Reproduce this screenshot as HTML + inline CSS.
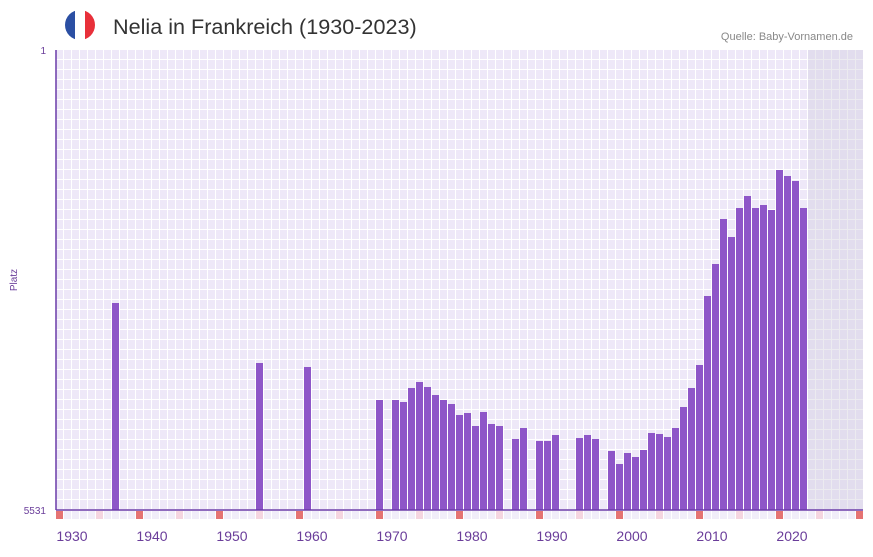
<!DOCTYPE html>
<html><head><meta charset="utf-8"><style>
body{margin:0;background:#fff;width:873px;height:552px;overflow:hidden;font-family:"Liberation Sans",sans-serif}
</style></head><body>
<svg width="873" height="552" xmlns="http://www.w3.org/2000/svg">
<defs>
<pattern id="g" x="56" y="50" width="8" height="10" patternUnits="userSpaceOnUse">
<rect width="8" height="10" fill="#fff"/><rect width="7" height="9" fill="#eee8f8"/></pattern>
<pattern id="g2" x="56" y="50" width="8" height="10" patternUnits="userSpaceOnUse">
<rect width="8" height="10" fill="#ecebf0"/><rect width="7" height="9" fill="#e2ddee"/></pattern>
<clipPath id="c"><circle cx="80" cy="25" r="15"/></clipPath>
</defs>
<g clip-path="url(#c)"><rect x="65" y="10" width="10" height="30" fill="#2b4fa3"/><rect x="75" y="10" width="10" height="30" fill="#fff"/><rect x="85" y="10" width="10" height="30" fill="#e8303a"/></g>
<text x="113" y="34" font-size="21.6" fill="#333">Nelia in Frankreich (1930-2023)</text>
<text x="853" y="40" font-size="11" fill="#888" text-anchor="end">Quelle: Baby-Vornamen.de</text>
<rect x="56" y="50" width="752" height="460" fill="url(#g)"/>
<rect x="808" y="50" width="55" height="460" fill="url(#g2)"/>
<g id="bars" fill="#8e56c8"></g>
<g id="mk"></g>
<line x1="56" y1="50" x2="56" y2="510" stroke="#6a3aa8" stroke-width="1.5"/>
<line x1="56" y1="510" x2="863" y2="510" stroke="#6a3aa8" stroke-width="1.5"/>
<text x="46" y="54" font-size="10" fill="#6a3d9a" text-anchor="end">1</text>
<text x="46" y="514" font-size="10" fill="#6a3d9a" text-anchor="end">5531</text>
<text x="17" y="280" font-size="10" fill="#6a3d9a" text-anchor="middle" transform="rotate(-90 17 280)">Platz</text>
<g id="xl" font-size="14" fill="#6a3d9a" text-anchor="middle"></g>
</svg>
<script>
var r={1935:303,1953:363,1959:367,1968:400,1970:400,1971:402,1972:388,1973:382,1974:387,1975:395,1976:400,1977:404,1978:415,1979:413,1980:426,1981:412,1982:424,1983:426,1985:439,1986:428,1988:441,1989:441,1990:435,1993:438,1994:435,1995:439,1997:451,1998:464,1999:453,2000:457,2001:450,2002:433,2003:434,2004:437,2005:428};
var recent=[407,388,365,296,264,219,237,208,196,208,205,210,170,176,181,208];
for(var i=0;i<recent.length;i++)r[2006+i]=recent[i];
var s="";
for(var k in r){var x=56+(k-1928)*8;s+='<rect x="'+x+'" y="'+r[k]+'" width="7" height="'+(510-r[k])+'"/>';}
document.getElementById('bars').innerHTML=s;
var m="";for(var y=1928;y<=2028;y++){var x=56+(y-1928)*8;if(x>856)break;var c=(y-1928)%10==0?"#e57373":((y-1928)%5==0?"#f5d5e0":"#f1edf9");m+='<rect x="'+x+'" y="511" width="7" height="8" fill="'+c+'"/>';}
document.getElementById('mk').innerHTML=m;
var t="";for(var y=1930;y<=2020;y+=10){t+='<text x="'+(56+(y-1928)*8)+'" y="541">'+y+'</text>';}
document.getElementById('xl').innerHTML=t;
</script>
</body></html>
